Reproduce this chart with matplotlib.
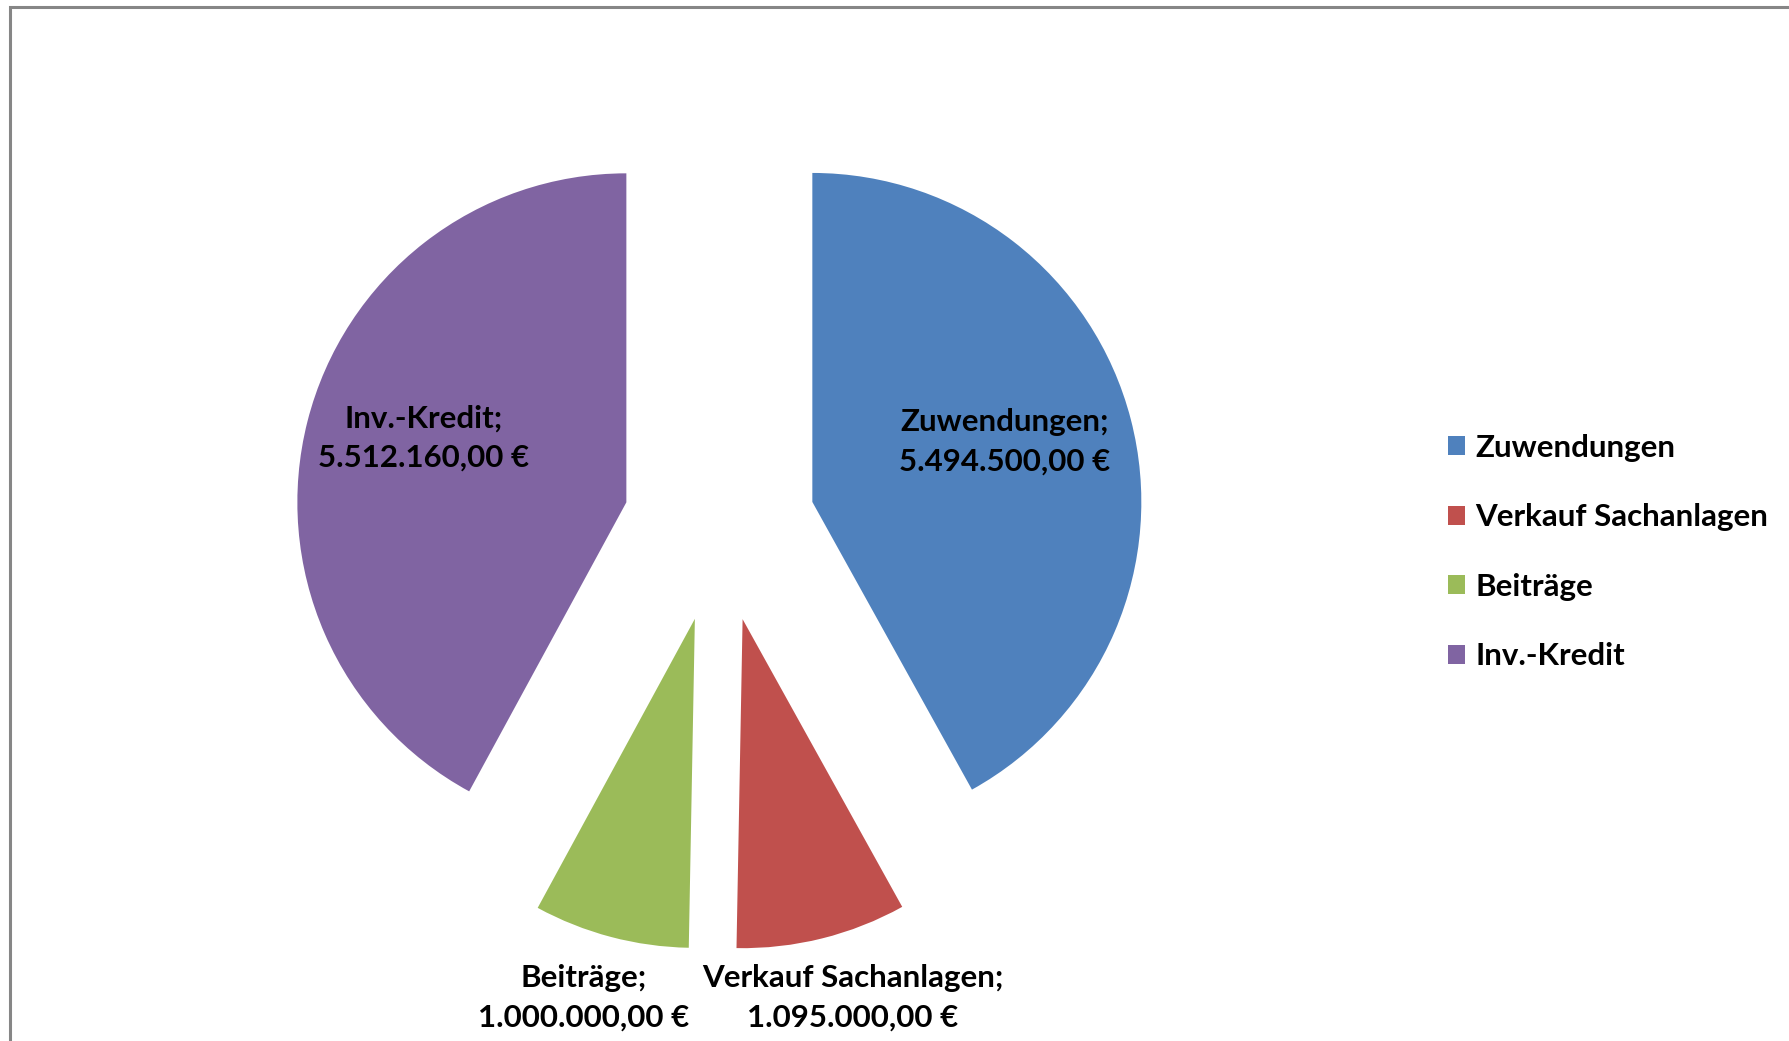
import matplotlib
matplotlib.use("Agg")
import matplotlib.pyplot as plt
import matplotlib.patches as mpatches

# data
categories = ["Zuwendungen", "Verkauf Sachanlagen", "Beiträge", "Inv.-Kredit"]
values = [5494500.00, 1095000.00, 1000000.00, 5512160.00]
colors = ["#4F81BD", "#C0504D", "#9BBB59", "#8064A2"]


def euro(v):
    s = "{:,.2f}".format(v).replace(",", "X").replace(".", ",").replace("X", ".")
    return s + " €"


W, H = 1789, 1041
plt.rcParams["font.family"] = ["Lato", "DejaVu Sans"]
fig = plt.figure(figsize=(W / 100, H / 100), dpi=100)
ax = fig.add_axes([0, 0, 1, 1])
ax.set_xlim(0, W); ax.set_ylim(0, H)
ax.set_aspect("equal"); ax.axis("off")

wedges, _ = ax.pie(values, colors=colors, startangle=90, counterclock=False,
                   center=(719.4, 515), radius=329, explode=[96] * 4,
                   wedgeprops={"linewidth": 0})
ax.set_xlim(0, W); ax.set_ylim(0, H)

fs = 22.5
label_pos = {"Zuwendungen": (1005, 599), "Inv.-Kredit": (424, 603),
             "Beiträge": (584, 43), "Verkauf Sachanlagen": (853, 43)}
for c, v in zip(categories, values):
    x, y = label_pos[c]
    ax.text(x, y, "%s;\n%s" % (c, euro(v)), ha="center", va="center",
            fontsize=fs, fontweight="bold", linespacing=1.49)

handles = [mpatches.Patch(facecolor=col, edgecolor="none", label=c)
           for c, col in zip(categories, colors)]
ax.legend(handles=handles, loc="center left", bbox_to_anchor=(1435 / W, 1 - 552 / H),
          frameon=False, prop={"size": fs, "weight": "bold"}, handlelength=0.56,
          handleheight=0.56, handletextpad=0.32, labelspacing=1.33, borderaxespad=0)

# chart area border (cropped at right and bottom)
ax.add_patch(mpatches.Rectangle((9.5, -20), W + 50, H - 7 + 20, fill=False,
                                edgecolor="#868686", lw=2.2, clip_on=False))

fig.savefig("out.png", dpi=100, facecolor="white")
